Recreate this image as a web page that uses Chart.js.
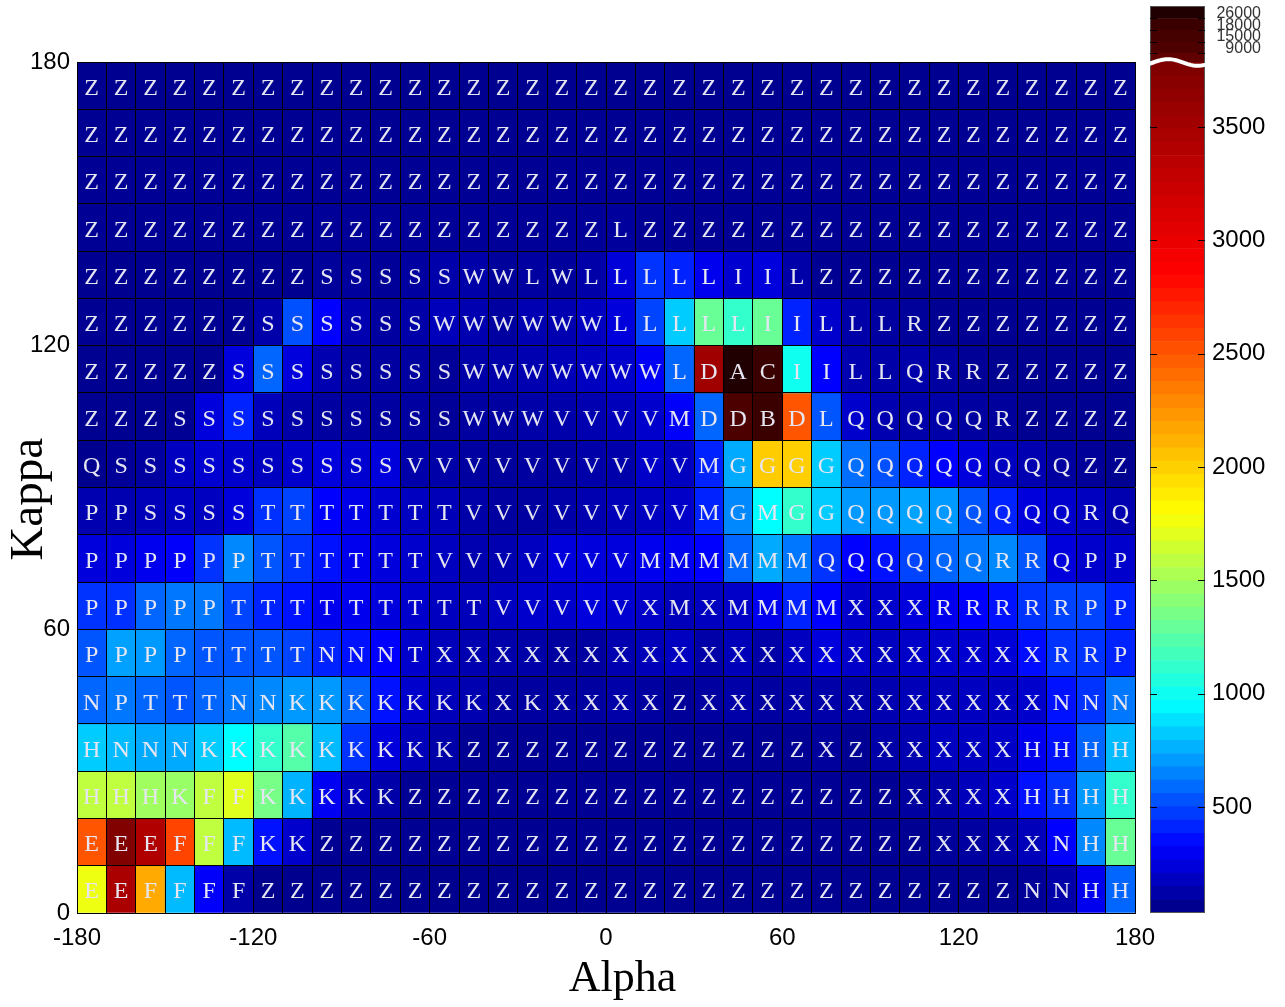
<!DOCTYPE html>
<html lang="en">
<head>
    <meta charset="UTF-8">
    <title>Alpha / Kappa map</title>
    <script src="https://cdn.jsdelivr.net/npm/chart.js@4.4.1/dist/chart.umd.min.js"></script>
    <style>
        * { margin: 0; padding: 0; box-sizing: border-box; }
        body { background: #fff; width: 1285px; height: 1007px; overflow: hidden; position: relative; }
        .box { position: absolute; top: 0; height: 1007px; }
        #mapBox { left: 0; width: 1285px; }
        #barBox { left: 1140px; width: 145px; }
    </style>
</head>
<body>
    <div class="box" id="mapBox"><canvas id="mapChart"></canvas></div>
    <div class="box" id="barBox"><canvas id="barChart"></canvas></div>

<script>
// bin lower edges in degrees
const alphaBins = [-180, -170, -160, -150, -140, -130, -120, -110, -100, -90, -80, -70,
                   -60, -50, -40, -30, -20, -10, 0, 10, 20, 30, 40, 50,
                   60, 70, 80, 90, 100, 110, 120, 130, 140, 150, 160, 170];
const kappaBins = [170, 160, 150, 140, 130, 120, 110, 100, 90, 80, 70, 60, 50, 40, 30, 20, 10, 0]; // top row first
const binWidth = 10;
const axisTicks = [-180, -120, -60, 0, 60, 120, 180];

// cell letters, top row first, groups of 60 degrees
const letters = [
    'ZZZZZZ ZZZZZZ ZZZZZZ ZZZZZZ ZZZZZZ ZZZZZZ',
    'ZZZZZZ ZZZZZZ ZZZZZZ ZZZZZZ ZZZZZZ ZZZZZZ',
    'ZZZZZZ ZZZZZZ ZZZZZZ ZZZZZZ ZZZZZZ ZZZZZZ',
    'ZZZZZZ ZZZZZZ ZZZZZZ LZZZZZ ZZZZZZ ZZZZZZ',
    'ZZZZZZ ZZSSSS SWWLWL LLLLII LZZZZZ ZZZZZZ',
    'ZZZZZZ SSSSSS WWWWWW LLLLLI ILLLRZ ZZZZZZ',
    'ZZZZZS SSSSSS SWWWWW WWLDAC IILLQR RZZZZZ',
    'ZZZSSS SSSSSS SWWWVV VVMDDB DLQQQQ QRZZZZ',
    'QSSSSS SSSSSV VVVVVV VVVMGG GGQQQQ QQQQZZ',
    'PPSSSS TTTTTT TVVVVV VVVMGM GGQQQQ QQQQRQ',
    'PPPPPP TTTTTT VVVVVV VMMMMM MQQQQQ QRRQPP',
    'PPPPPT TTTTTT TTVVVV VXMXMM MMXXXR RRRRPP',
    'PPPPTT TTNNNT XXXXXX XXXXXX XXXXXX XXXRRP',
    'NPTTTN NKKKKK KKXKXX XXZXXX XXXXXX XXXNNN',
    'HNNNKK KKKKKK KZZZZZ ZZZZZZ ZXZXXX XXHHHH',
    'HHHKFF KKKKKZ ZZZZZZ ZZZZZZ ZZZZXX XXHHHH',
    'EEEFFF KKZZZZ ZZZZZZ ZZZZZZ ZZZZZX XXXNHH',
    'EEFFFF ZZZZZZ ZZZZZZ ZZZZZZ ZZZZZZ ZZNNHH'
];

// cell counts, top row first
const counts = [
    [35, 35, 35, 35, 35, 35, 35, 35, 35, 35, 35, 35, 35, 35, 35, 35, 35, 35, 35, 35, 35, 35, 35, 35, 35, 35, 35, 35, 35, 35, 35, 35, 35, 35, 35, 35],
    [40, 40, 40, 40, 40, 40, 40, 40, 40, 40, 40, 40, 40, 40, 40, 40, 40, 40, 40, 40, 40, 40, 40, 40, 40, 40, 40, 40, 40, 40, 40, 40, 40, 40, 40, 40],
    [45, 45, 45, 45, 45, 45, 45, 45, 45, 45, 45, 45, 45, 45, 45, 45, 45, 45, 45, 45, 45, 45, 45, 45, 45, 45, 45, 45, 45, 45, 45, 45, 45, 45, 45, 45],
    [45, 45, 45, 45, 45, 45, 45, 45, 54, 54, 54, 54, 54, 54, 54, 54, 54, 54, 64, 45, 45, 45, 45, 45, 45, 45, 45, 45, 45, 45, 45, 45, 45, 45, 45, 45],
    [35, 35, 35, 35, 35, 35, 35, 35, 59, 64, 54, 74, 97, 93, 59, 74, 64, 93, 207, 428, 385, 260, 188, 219, 93, 40, 40, 40, 40, 40, 40, 40, 40, 40, 40, 40],
    [40, 40, 40, 40, 40, 40, 97, 500, 300, 112, 74, 93, 138, 112, 74, 120, 112, 150, 219, 471, 812, 1290, 1112, 1290, 385, 179, 93, 74, 59, 40, 40, 40, 40, 40, 40, 40],
    [38, 38, 38, 38, 38, 219, 556, 219, 112, 74, 74, 74, 54, 93, 97, 112, 131, 150, 179, 280, 556, 3554, 27000, 19000, 990, 300, 112, 93, 97, 74, 50, 38, 38, 38, 38, 38],
    [38, 38, 38, 45, 219, 385, 138, 93, 74, 74, 74, 74, 54, 74, 74, 93, 97, 112, 138, 179, 290, 556, 12000, 20000, 2513, 513, 179, 112, 97, 93, 74, 64, 38, 38, 38, 38],
    [30, 54, 74, 150, 188, 179, 150, 179, 219, 188, 219, 97, 93, 74, 64, 74, 74, 93, 97, 169, 150, 385, 727, 2014, 2000, 812, 575, 500, 385, 300, 219, 150, 112, 74, 54, 38],
    [112, 112, 131, 150, 150, 219, 420, 471, 300, 245, 188, 150, 131, 93, 74, 74, 93, 112, 131, 150, 169, 385, 641, 940, 1112, 812, 684, 684, 710, 684, 513, 385, 219, 179, 150, 112],
    [219, 219, 260, 290, 428, 641, 513, 428, 343, 260, 219, 179, 150, 112, 112, 150, 219, 219, 219, 260, 264, 300, 556, 727, 599, 428, 300, 343, 471, 556, 599, 641, 513, 219, 179, 179],
    [428, 420, 556, 599, 599, 471, 385, 343, 260, 260, 219, 179, 150, 138, 150, 179, 179, 219, 188, 169, 138, 150, 169, 264, 385, 300, 179, 179, 219, 260, 300, 343, 428, 471, 471, 385],
    [513, 705, 684, 556, 513, 513, 513, 471, 385, 343, 300, 179, 138, 112, 97, 93, 74, 74, 112, 131, 150, 93, 131, 93, 150, 219, 169, 150, 169, 179, 188, 207, 330, 428, 428, 385],
    [556, 599, 556, 513, 556, 599, 641, 684, 684, 556, 343, 179, 138, 112, 74, 74, 74, 74, 93, 74, 54, 74, 93, 74, 93, 93, 97, 112, 131, 138, 150, 150, 179, 343, 428, 599],
    [812, 769, 727, 727, 812, 940, 1112, 1227, 769, 428, 219, 138, 93, 45, 45, 45, 45, 45, 45, 45, 45, 45, 45, 45, 45, 64, 45, 93, 112, 150, 150, 169, 260, 343, 556, 769],
    [1588, 1588, 1480, 1456, 1588, 1696, 1341, 750, 270, 138, 93, 45, 45, 45, 45, 45, 45, 45, 45, 45, 45, 45, 45, 45, 45, 45, 45, 45, 74, 93, 138, 179, 343, 428, 684, 1112],
    [2513, 3780, 3436, 2585, 1588, 769, 343, 179, 40, 40, 40, 40, 40, 40, 40, 40, 40, 40, 40, 40, 40, 40, 40, 40, 40, 40, 40, 40, 40, 59, 74, 93, 138, 300, 641, 1290],
    [1743, 3480, 2157, 769, 290, 93, 32, 32, 32, 32, 32, 32, 32, 32, 32, 32, 32, 32, 38, 38, 38, 38, 38, 38, 38, 38, 38, 38, 38, 38, 38, 38, 54, 93, 260, 556]
];

// colour bar
const cbTicks = [500, 1000, 1500, 2000, 2500, 3000, 3500];
const cbUpperLabels = [9000, 15000, 18000, 26000];
const cmapStops = [[33, '#00008f'], [300, '#0000ff'], [940, '#00ffff'], [1800, '#ffff00'], [2870, '#ff0000'], [3785, '#800000']];
const upperColors = ['#600000', '#4d0000', '#450000', '#3a0000', '#200000'];

// the bar axis is linear up to the break, the big values sit in squeezed bands above it
const cbMin = 33;
const breakValue = 3785;
const upperBandPos = [3826, 3877, 3928, 3979];
const cbTop = 4034;
const labelLift = 20;

function hexToRgb(h) {
    const n = parseInt(h.slice(1), 16);
    return [n >> 16, (n >> 8) & 255, n & 255];
}

function colorFor(v) {
    if (v > breakValue) {
        let c = upperColors[0];
        cbUpperLabels.forEach((u, i) => { if (v >= u) c = upperColors[i + 1]; });
        return c;
    }
    if (v <= cmapStops[0][0]) return cmapStops[0][1];
    for (let i = 1; i < cmapStops.length; i++) {
        const [v1, c1] = cmapStops[i];
        if (v <= v1) {
            const [v0, c0] = cmapStops[i - 1];
            const t = (v - v0) / (v1 - v0);
            const a = hexToRgb(c0), b = hexToRgb(c1);
            const m = a.map((x, k) => Math.round(x + (b[k] - x) * t));
            return `rgb(${m[0]},${m[1]},${m[2]})`;
        }
    }
    return cmapStops[cmapStops.length - 1][1];
}

Chart.defaults.font.family = "'Liberation Sans', Arial, sans-serif";
Chart.defaults.color = '#000';

// letters in the middle of every cell
const cellLetters = {
    id: 'cellLetters',
    afterDatasetsDraw(chart) {
        const ctx = chart.ctx;
        ctx.save();
        ctx.font = "24px 'Liberation Serif', 'Times New Roman', serif";
        ctx.fillStyle = '#e6e6f2';
        ctx.textAlign = 'center';
        ctx.textBaseline = 'middle';
        chart.data.datasets.forEach((ds, r) => {
            chart.getDatasetMeta(r).data.forEach((bar, c) => {
                const p = bar.getProps(['x', 'y', 'base'], true);
                ctx.fillText(ds.letters[c], p.x, (p.y + p.base) / 2 + 3);
            });
        });
        ctx.restore();
    }
};

const tickLabel = v => axisTicks.includes(v) ? String(v) : '';

new Chart(document.getElementById('mapChart'), {
    type: 'bar',
    data: {
        datasets: kappaBins.map((k, r) => ({
            label: 'Kappa ' + k,
            data: alphaBins.map(a => ({ x: a + binWidth / 2, y: [k, k + binWidth] })),
            backgroundColor: counts[r].map(colorFor),
            letters: letters[r].replace(/ /g, ''),
            borderWidth: 0,
            barPercentage: 1,
            categoryPercentage: 1
        }))
    },
    options: {
        responsive: true,
        maintainAspectRatio: false,
        animation: false,
        layout: { padding: { top: 62, right: 150, left: 0, bottom: 0 } },
        plugins: { legend: { display: false }, tooltip: { enabled: false } },
        scales: {
            x: {
                type: 'linear', min: -180, max: 180, offset: false, stacked: true,
                afterFit: s => { s.height = 94; },
                grid: { color: '#000', lineWidth: 1, drawTicks: false, offset: false, z: 1 },
                border: { color: '#000', width: 1, z: 1 },
                ticks: {
                    stepSize: binWidth, autoSkip: false, maxRotation: 0, padding: 11,
                    font: { size: 24 }, color: '#000', callback: tickLabel
                },
                title: {
                    display: true, text: '\u00a0\u00a0\u00a0Alpha', color: '#000',
                    font: { family: "'Liberation Serif', serif", size: 44 },
                    padding: { top: 0, bottom: 1 }
                }
            },
            y: {
                type: 'linear', min: 0, max: 180,
                afterFit: s => { s.width = 77; },
                grid: { color: '#000', lineWidth: 1, drawTicks: false, z: 1 },
                border: { color: '#000', width: 1, z: 1 },
                ticks: {
                    stepSize: binWidth, autoSkip: false, padding: 7,
                    font: { size: 24 }, color: '#000', callback: tickLabel
                },
                title: {
                    display: true, text: 'Kappa\u00a0\u00a0', color: '#000',
                    font: { family: "'Liberation Serif', serif", size: 47 },
                    padding: { top: 1, bottom: 0 }
                }
            }
        }
    },
    plugins: [cellLetters]
});

// colour bar: 64 levels below the break, one band per big label above it
const cbSegments = [];
for (let i = 0; i < 64; i++) {
    const span = breakValue - cbMin;
    cbSegments.push({
        from: cbMin + span * i / 64,
        to: cbMin + span * (i + 1) / 64,
        color: colorFor(cbMin + span * i / 63)
    });
}
const upperEdges = [breakValue, ...upperBandPos, cbTop];
upperColors.forEach((c, i) => cbSegments.push({ from: upperEdges[i], to: upperEdges[i + 1], color: c }));

const upperLabelPos = upperBandPos.map(p => p + labelLift);

function cbLabel(v) {
    const i = upperLabelPos.indexOf(v);
    if (i < 0) return String(v);
    const s = String(cbUpperLabels[i]);
    return ' ' + '  '.repeat(5 - s.length) + s;
}

const barDecor = {
    id: 'barDecor',
    afterDraw(chart) {
        const { ctx, chartArea: a, scales: { y } } = chart;
        ctx.save();
        ctx.strokeStyle = '#555';
        ctx.lineWidth = 1;
        ctx.strokeRect(a.left + 0.5, a.top + 0.5, a.width - 1, a.height - 1);
        ctx.strokeStyle = '#000';
        [...cbTicks, ...upperBandPos].forEach(v => {
            const py = Math.round(y.getPixelForValue(v)) + 0.5;
            ctx.beginPath();
            ctx.moveTo(a.left, py); ctx.lineTo(a.left + 7, py);
            ctx.moveTo(a.right - 7, py); ctx.lineTo(a.right, py);
            ctx.stroke();
        });
        // break mark
        const yb = y.getPixelForValue(breakValue);
        ctx.strokeStyle = '#fff';
        ctx.lineWidth = 4;
        ctx.beginPath();
        for (let i = 0; i <= 40; i++) {
            const t = i / 40;
            const px = a.left - 2 + t * (a.width + 4);
            const py = yb - 3.3 * Math.sin(2 * Math.PI * (t - 0.09));
            if (i === 0) ctx.moveTo(px, py); else ctx.lineTo(px, py);
        }
        ctx.stroke();
        ctx.restore();
    }
};

new Chart(document.getElementById('barChart'), {
    type: 'bar',
    data: {
        labels: [''],
        datasets: cbSegments.map(s => ({
            data: [[s.from, s.to]],
            backgroundColor: s.color,
            borderWidth: 0,
            barPercentage: 1,
            categoryPercentage: 1
        }))
    },
    options: {
        responsive: true,
        maintainAspectRatio: false,
        animation: false,
        layout: { padding: { left: 10, top: 6, right: 0, bottom: 94 } },
        plugins: { legend: { display: false }, tooltip: { enabled: false } },
        scales: {
            x: { display: false, stacked: true },
            y: {
                position: 'right', min: cbMin, max: cbTop,
                afterBuildTicks: s => { s.ticks = [...cbTicks, ...upperLabelPos].map(v => ({ value: v })); },
                afterFit: s => { s.width = 80; s.paddingTop = 0; s.paddingBottom = 0; },
                grid: { display: false, drawTicks: false },
                border: { display: false },
                ticks: {
                    padding: 7, autoSkip: false,
                    callback: cbLabel,
                    font: c => (c.tick && c.tick.value > breakValue) ? { size: 16 } : { size: 24 },
                    color: c => (c.tick && c.tick.value > breakValue) ? '#333' : '#000'
                }
            }
        }
    },
    plugins: [barDecor]
});
</script>
</body>
</html>
